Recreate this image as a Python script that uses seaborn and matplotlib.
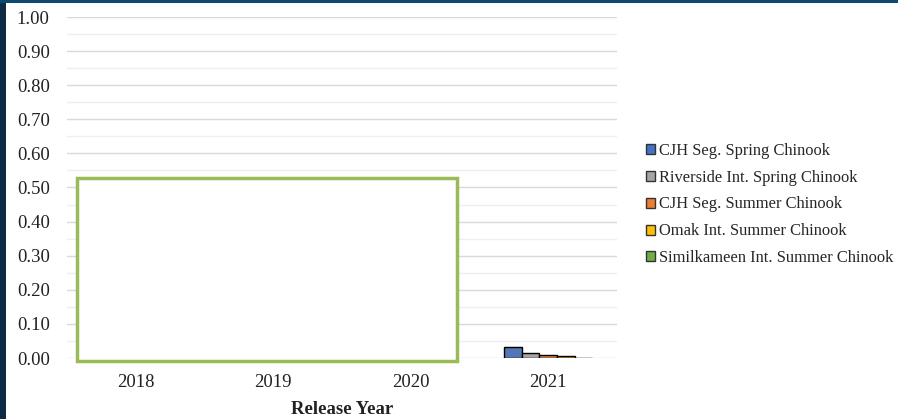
import matplotlib
matplotlib.use("Agg")
import matplotlib.pyplot as plt
import seaborn as sns
import pandas as pd
import numpy as np
from matplotlib.patches import Rectangle, Patch

years = ["2018", "2019", "2020", "2021"]
series = ["CJH Seg. Spring Chinook", "Riverside Int. Spring Chinook",
          "CJH Seg. Summer Chinook", "Omak Int. Summer Chinook",
          "Similkameen Int. Summer Chinook"]
cjh_spring = [0.0, 0.0, 0.0, 0.031]
riverside_spring = [0.0, 0.0, 0.0, 0.015]
cjh_summer = [0.0, 0.0, 0.0, 0.008]
omak_summer = [0.0, 0.0, 0.0, 0.007]
similkameen_summer = [0.0, 0.0, 0.0, 0.0]
colors = ["#4472C4", "#A5A5A5", "#ED7D31", "#FFC000", "#70AD47"]

values = [cjh_spring, riverside_spring, cjh_summer, omak_summer, similkameen_summer]
rows = []
for s, vals in zip(series, values):
    for y, v in zip(years, vals):
        rows.append({"Release Year": y, "Series": s, "Value": v})
df = pd.DataFrame(rows)

sns.set_theme(style="white")
plt.rcParams["font.family"] = ["Liberation Serif", "DejaVu Serif"]

fig = plt.figure(figsize=(8.98, 4.19), dpi=100)
fig.patch.set_facecolor("white")
ax = fig.add_axes([67/898, 1-358/419, 550/898, 341/419])

sns.barplot(data=df, x="Release Year", y="Value", hue="Series", hue_order=series,
            palette=colors, width=0.64, edgecolor="black", linewidth=1.0,
            ax=ax, legend=False, zorder=3)

ax.set_ylim(0, 1.0)
ax.set_xlim(-0.5, 3.5)
ax.set_yticks(np.arange(0, 1.01, 0.1))
ax.set_yticklabels([f"{v:.2f}" for v in np.arange(0, 1.01, 0.1)])
ax.set_yticks(np.arange(0.05, 1.0, 0.1), minor=True)
ax.grid(axis="y", which="major", color="#d9d9d9", linewidth=1.0, zorder=0)
ax.grid(axis="y", which="minor", color="#efefef", linewidth=1.0, zorder=0)
ax.set_axisbelow(True)
for sp in ax.spines.values():
    sp.set_visible(False)
ax.tick_params(axis="y", which="both", length=0, pad=12.5, labelsize=13.5, colors="#222222")
ax.tick_params(axis="x", length=0, pad=11.5, labelsize=13.5, colors="#222222")
ax.set_ylabel("")
ax.set_xlabel("Release Year", fontsize=13.5, fontweight="bold", color="#222222", labelpad=7.5)

# green overlay box
ax.add_patch(Rectangle((0.018, -0.01), 0.691, 0.538, transform=ax.transAxes,
                       facecolor="white", edgecolor="#9BBB59", linewidth=2.5,
                       clip_on=False, zorder=10))

handles = [Patch(facecolor=c, edgecolor="#333333", linewidth=1.0) for c in colors]
fig.legend(handles, series, loc="center left", bbox_to_anchor=(0.719, 0.512),
           frameon=False, fontsize=11.9, handlelength=0.55, handleheight=0.55,
           handletextpad=0.25, labelspacing=0.66, borderaxespad=0, borderpad=0)

# slide border
fig.add_artist(Rectangle((0, 0), 6/898, 1, transform=fig.transFigure,
                         facecolor="#0c2a44", edgecolor="none"))
fig.add_artist(Rectangle((0, 1-3/419), 1, 3/419, transform=fig.transFigure,
                         facecolor="#0b4a6c", edgecolor="none"))

fig.savefig("out.png", dpi=100)
